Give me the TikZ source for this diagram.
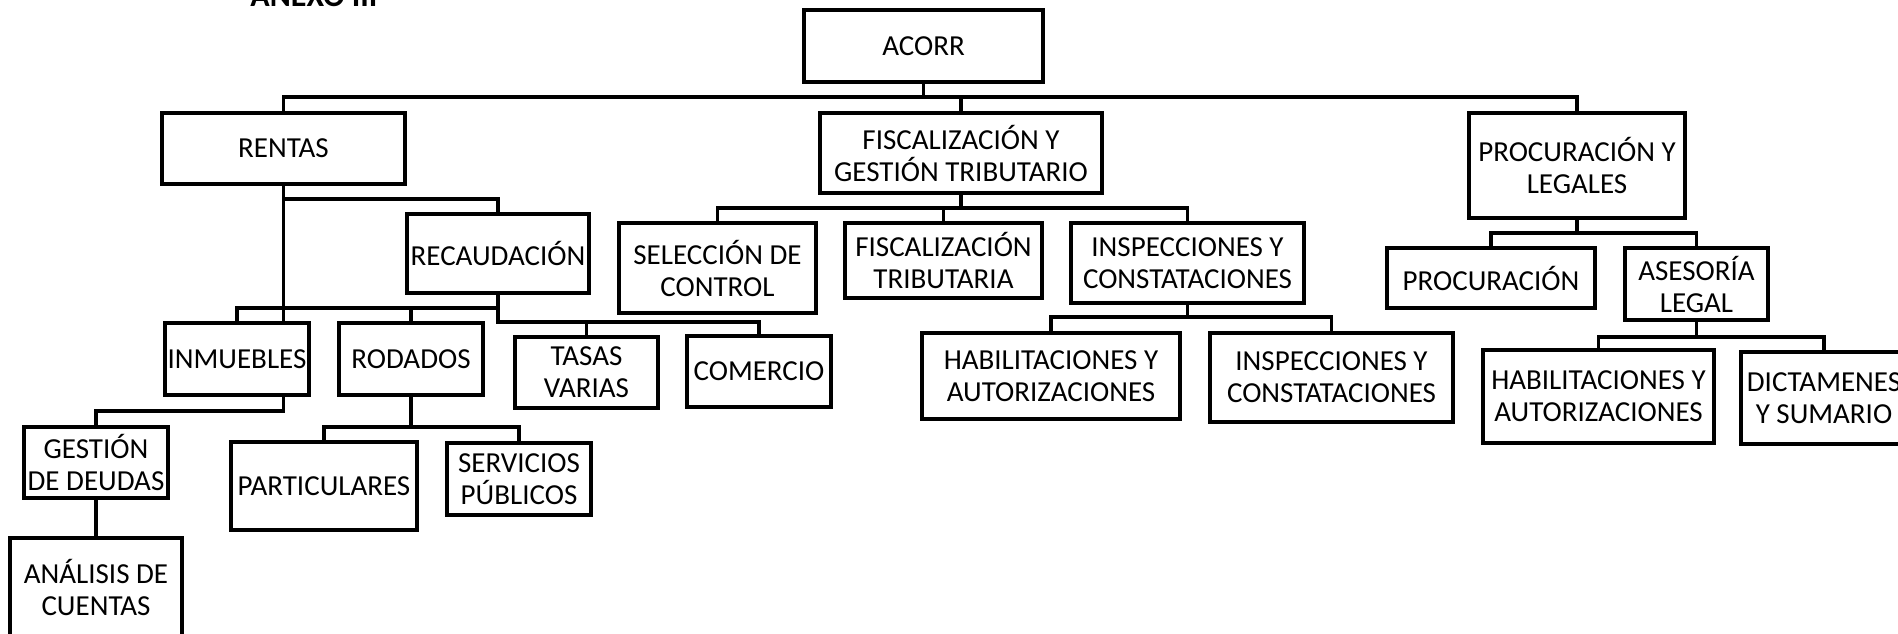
\documentclass[tikz,border=0pt]{standalone}
\usepackage{fontspec}
\setmainfont{Carlito}
\tikzset{
  orgbox/.style={draw, line width=1.6pt, inner sep=0pt, outer sep=0pt, align=center,
    font=\fontsize{14.5}{16}\selectfont},
  conn/.style={line width=1.6pt}
}
\newcommand\orgbox[6]{%
  \node[orgbox, minimum width={(#4-#2)*0.5pt}, minimum height={(#5-#3)*0.5pt}]
    (#1) at ({(#2+#4)/2},{(#3+#5)/2}) {#6};}
\begin{document}
\begin{tikzpicture}[x=0.5pt, y=-0.5pt]
\useasboundingbox (0,0) rectangle (1898,633);
\fill[white] (0,0) rectangle (1898,633);
\node[anchor=base west, inner sep=0pt, font=\fontsize{16}{18}\selectfont\bfseries] (anexo) at (250,6) {ANEXO III};
\orgbox{acorr}{804}{10}{1043}{82}{ACORR}
\orgbox{rentas}{162}{113}{405}{184}{RENTAS}
\orgbox{fisc}{820}{113}{1102}{193}{FISCALIZACIÓN Y\\GESTIÓN TRIBUTARIO}
\orgbox{proc}{1469}{113}{1685}{218}{PROCURACIÓN Y\\LEGALES}
\orgbox{recaud}{407}{214}{589}{293}{RECAUDACIÓN}
\orgbox{selec}{619}{223}{816}{313}{SELECCIÓN DE\\CONTROL}
\orgbox{fistrib}{845}{223}{1042}{298}{FISCALIZACIÓN\\TRIBUTARIA}
\orgbox{insp}{1071}{223}{1304}{303}{INSPECCIONES Y\\CONSTATACIONES}
\orgbox{inmu}{165}{323}{309}{395}{INMUEBLES}
\orgbox{roda}{339}{323}{483}{395}{RODADOS}
\orgbox{tasas}{515}{337}{658}{408}{TASAS\\VARIAS}
\orgbox{comer}{687}{336}{831}{407}{COMERCIO}
\orgbox{habc}{922}{333}{1180}{419}{HABILITACIONES Y\\AUTORIZACIONES}
\orgbox{insp2}{1210}{333}{1453}{422}{INSPECCIONES Y\\CONSTATACIONES}
\orgbox{procu}{1387}{248}{1595}{308}{PROCURACIÓN}
\orgbox{ases}{1625}{248}{1768}{320}{ASESORÍA\\LEGAL}
\orgbox{habr}{1483}{350}{1714}{443}{HABILITACIONES Y\\AUTORIZACIONES}
\orgbox{dict}{1741}{352}{1907}{444}{DICTAMENES\\Y SUMARIO}
\orgbox{gest}{24}{427}{168}{498}{GESTIÓN\\DE DEUDAS}
\orgbox{anal}{10}{538}{182}{636}{ANÁLISIS DE\\CUENTAS}
\orgbox{part}{231}{442}{417}{530}{PARTICULARES}
\orgbox{serv}{447}{443}{591}{515}{SERVICIOS\\PÚBLICOS}
% connectors
\draw[conn] (acorr.south) -- ++(0,15);
\draw[conn] (rentas.north) -- ++(0,-16) -| (proc.north);
\draw[conn] (fisc.north) -- ++(0,-16);
\draw[conn] (rentas.south) -- (rentas.south |- inmu.north);
\draw[conn] (rentas.south) ++(0,15) -| (recaud.north);
\draw[conn] (inmu.north) -- ++(0,-15) -| (recaud.south);
\draw[conn] (roda.north) -- ++(0,-15);
\draw[conn] (recaud.south) -- ++(0,29) -| (comer.north);
\draw[conn] (tasas.north) -- ++(0,-15);
\draw[conn] (rentas.south |- inmu.south) -- ++(0,16) -| (gest.north);
\draw[conn] (gest.south) -- (anal.north);
\draw[conn] (roda.south) -- ++(0,32);
\draw[conn] (part.north) -- ++(0,-15) -| (serv.north);
\draw[conn] (fisc.south) -- ++(0,15);
\draw[conn] (selec.north) -- ++(0,-15) -| (insp.north);
\draw[conn] (fistrib.north) -- ++(0,-15);
\draw[conn] (insp.south) -- ++(0,15);
\draw[conn] (habc.north) -- ++(0,-16) -| (insp2.north);
\draw[conn] (proc.south) -- ++(0,15);
\draw[conn] (procu.north) -- ++(0,-15) -| (ases.north);
\draw[conn] (ases.south) -- ++(0,17);
\draw[conn] (habr.north) -- ++(0,-13) -| (dict.north);
\end{tikzpicture}
\end{document}
